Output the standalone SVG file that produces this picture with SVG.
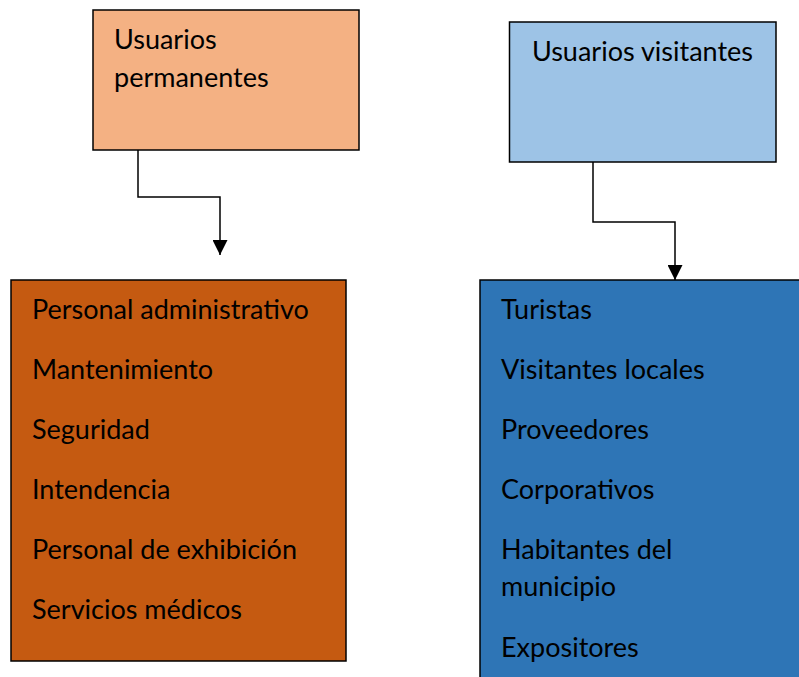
<svg xmlns="http://www.w3.org/2000/svg" width="799" height="677" viewBox="0 0 799 677">
<style>
.box{stroke:#000;stroke-width:1.5}
.t{font-family:Lato,"Liberation Sans",sans-serif;font-size:27px;fill:#000}
.c{fill:none;stroke:#000;stroke-width:1.5}
</style>
<defs>
<marker id="ah" viewBox="0 0 10 10" refX="10" refY="5" markerUnits="userSpaceOnUse" markerWidth="15" markerHeight="15" orient="auto">
<path d="M0,0 L10,5 L0,10 Z" fill="#000"/>
</marker>
</defs>
<rect width="799" height="677" fill="#fff"/>
<g id="perm">
<rect class="box" x="93" y="10" width="266" height="140" fill="#F4B183"/>
<text class="t" x="114" y="49">Usuarios</text>
<text class="t" x="114" y="87">permanentes</text>
</g>
<g id="visit">
<rect class="box" x="509.5" y="22" width="266.5" height="140" fill="#9DC3E6"/>
<text class="t" x="642.5" y="61" text-anchor="middle">Usuarios visitantes</text>
</g>
<g id="perm-list">
<rect class="box" x="11" y="280" width="335" height="381" fill="#C55A11"/>
<text class="t" x="32" y="319">Personal administrativo</text>
<text class="t" x="32" y="379">Mantenimiento</text>
<text class="t" x="32" y="439">Seguridad</text>
<text class="t" x="32" y="499">Intendencia</text>
<text class="t" x="32" y="559">Personal de exhibición</text>
<text class="t" x="32" y="619">Servicios médicos</text>
</g>
<g id="visit-list">
<rect class="box" x="480" y="280" width="340" height="420" fill="#2E75B6"/>
<text class="t" x="501" y="319">Turistas</text>
<text class="t" x="501" y="379">Visitantes locales</text>
<text class="t" x="501" y="439">Proveedores</text>
<text class="t" x="501" y="499">Corporativos</text>
<text class="t" x="501" y="559">Habitantes del</text>
<text class="t" x="501" y="596">municipio</text>
<text class="t" x="501" y="657">Expositores</text>
</g>
<g id="connectors">
<path class="c" d="M138,150 V197 H220 V255" marker-end="url(#ah)"/>
<path class="c" d="M593,162 V222 H675 V280" marker-end="url(#ah)"/>
</g>
</svg>
